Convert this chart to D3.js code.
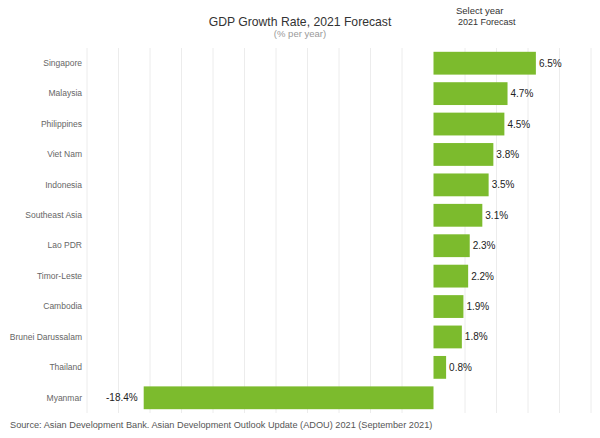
<!DOCTYPE html>
<html><head><meta charset="utf-8">
<script src="https://cdn.jsdelivr.net/npm/d3@7"></script>
<style>body{margin:0;background:#fff;}svg{display:block;font-family:"Liberation Sans",Arial,sans-serif;}</style>
</head><body><svg id="c" width="600" height="438"></svg>
<script>
const countries = ["Singapore","Malaysia","Philippines","Viet Nam","Indonesia","Southeast Asia","Lao PDR","Timor-Leste","Cambodia","Brunei Darussalam","Thailand","Myanmar"];
const growth = [6.5,4.7,4.5,3.8,3.5,3.1,2.3,2.2,1.9,1.8,0.8,-18.4];
const gridTicks = [-22,-20,-18,-16,-14,-12,-10,-8,-6,-4,-2,2,4,6,8,10];

const svg = d3.select("#c");
const x = d3.scaleLinear().domain([-22,10]).range([87,591]);
const y = d3.scaleBand().domain(countries).range([48,413]).paddingInner(0.25).paddingOuter(0.125);

svg.append("g").selectAll("line").data(gridTicks).join("line")
  .attr("x1",d=>x(d)).attr("x2",d=>x(d)).attr("y1",48).attr("y2",413)
  .attr("stroke","#ececec").attr("stroke-width",1);

svg.append("g").selectAll("rect").data(countries).join("rect")
  .attr("x",(d,i)=>x(Math.min(0,growth[i])))
  .attr("width",(d,i)=>Math.abs(x(growth[i])-x(0)))
  .attr("y",d=>y(d)).attr("height",y.bandwidth())
  .attr("fill","#7cbb2d");

svg.append("g").selectAll("text").data(countries).join("text")
  .attr("x",(d,i)=>growth[i]>=0 ? x(growth[i])+3 : x(growth[i])-6)
  .attr("y",d=>y(d)+y.bandwidth()/2)
  .attr("dy","0.35em")
  .attr("text-anchor",(d,i)=>growth[i]>=0?"start":"end")
  .attr("font-size",10).attr("fill","#222").attr("font-weight",500)
  .text((d,i)=>growth[i].toFixed(1)+"%");

const yAxis = svg.append("g").attr("transform","translate(82,0)")
  .call(d3.axisLeft(y).tickSize(0).tickPadding(0));
yAxis.select(".domain").remove();
yAxis.selectAll("text").attr("font-size",8.5).attr("fill","#666").attr("font-family","Liberation Sans, Arial, sans-serif");

svg.append("text").attr("x",300).attr("y",26).attr("text-anchor","middle")
  .attr("font-size",12.2).attr("fill","#333").text("GDP Growth Rate, 2021 Forecast");
svg.append("text").attr("x",300).attr("y",37).attr("text-anchor","middle")
  .attr("font-size",9.5).attr("fill","#999").text("(% per year)");
svg.append("text").attr("x",456).attr("y",14)
  .attr("font-size",9.5).attr("fill","#333").text("Select year");
svg.append("text").attr("x",458).attr("y",25)
  .attr("font-size",9).attr("fill","#333").text("2021 Forecast");
svg.append("text").attr("x",10).attr("y",428)
  .attr("font-size",9.2).attr("fill","#555")
  .text("Source: Asian Development Bank. Asian Development Outlook Update (ADOU) 2021 (September 2021)");
</script></body></html>
